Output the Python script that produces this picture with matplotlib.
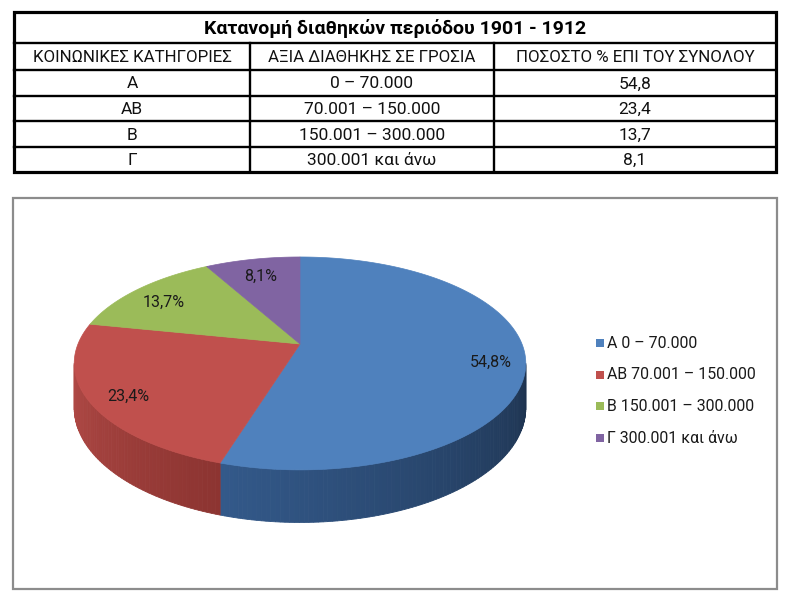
import numpy as np
import matplotlib
matplotlib.use("Agg")
import matplotlib.pyplot as plt
from matplotlib.patches import Polygon, Rectangle
from matplotlib.colors import to_rgb

# ---------------- data ----------------
table_title = "Κατανομή διαθηκών περιόδου 1901 - 1912"
col_headers = ["ΚΟΙΝΩΝΙΚΕΣ ΚΑΤΗΓΟΡΙΕΣ", "ΑΞΙΑ ΔΙΑΘΗΚΗΣ ΣΕ ΓΡΟΣΙΑ", "ΠΟΣΟΣΤΟ % ΕΠΙ ΤΟΥ ΣΥΝΟΛΟΥ"]
categories = ["Α", "ΑΒ", "Β", "Γ"]
value_ranges = ["0 – 70.000", "70.001 – 150.000", "150.001 – 300.000", "300.001 και άνω"]
percentages = [54.8, 23.4, 13.7, 8.1]
legend_labels = [f"{c} {r}" for c, r in zip(categories, value_ranges)]

top_colors = ["#4F81BD", "#C0504D", "#9BBB59", "#8064A2"]
side_light = ["#33598A", "#B24A46", "#86A24A", "#6D5590"]
side_dark = ["#1D324E", "#8C3431", "#6E863B", "#574377"]

FONT = ["Roboto", "DejaVu Sans"]
plt.rcParams['font.family'] = FONT

W, H = 790, 603
fig = plt.figure(figsize=(W / 100, H / 100), dpi=100)
ax = fig.add_axes([0, 0, 1, 1])
ax.set_xlim(0, W)
ax.set_ylim(H, 0)
ax.axis("off")

# ---------------- table ----------------
tx0, tx1 = 14, 776
row_y = [12, 43, 70, 96, 121, 147, 172]
col_x = [tx0, 250, 494, tx1]
lw_in = 1.7
ax.add_patch(Rectangle((tx0, row_y[0]), tx1 - tx0, row_y[-1] - row_y[0],
                       fill=False, ec="black", lw=2.3, zorder=3))
for y in row_y[1:-1]:
    ax.plot([tx0, tx1], [y, y], color="black", lw=lw_in, zorder=3)
for x in col_x[1:-1]:
    ax.plot([x, x], [row_y[1], row_y[-1]], color="black", lw=lw_in, zorder=3)

ax.text((tx0 + tx1) / 2, (row_y[0] + row_y[1]) / 2 + 1, table_title,
        ha="center", va="center", fontsize=14, fontweight="bold")
rows = [col_headers] + [[c, r, f"{p:.1f}".replace(".", ",")]
                        for c, r, p in zip(categories, value_ranges, percentages)]
for ri, row in enumerate(rows):
    yc = (row_y[ri + 1] + row_y[ri + 2]) / 2 + 1
    for ci, txt in enumerate(row):
        xc = (col_x[ci] + col_x[ci + 1]) / 2
        ax.text(xc, yc, txt, ha="center", va="center",
                fontsize=12.2 if ri == 0 else 12.5, color="#111111")

# ---------------- chart frame ----------------
ax.add_patch(Rectangle((13, 198), 764, 391, fill=False, ec="#8C8C8C", lw=1.6, zorder=1))

# ---------------- 3D pie (perspective) ----------------
cx, cy0 = 300, 344
A, B, k = 222, 102.9, 0.1825
depth = 43


def proj(u, v, dz=0.0):
    den = 1 + k * v
    return cx + A * u / den, cy0 - B * v / den + dz / den


fracs = np.array(percentages) / sum(percentages)
starts = 90 - 360 * np.concatenate([[0], np.cumsum(fracs)[:-1]])
ends = starts - 360 * fracs

vis_lo = 180 + np.degrees(np.arcsin(k))
vis_hi = 360 - np.degrees(np.arcsin(k))


def mix(c1, c2, t):
    a, b = np.array(to_rgb(c1)), np.array(to_rgb(c2))
    return tuple(a + (b - a) * t)


# side walls
for i in range(len(fracs)):
    lo, hi = ends[i], starts[i]
    for shift in (-360, 0, 360):
        a0, a1 = max(lo + shift, vis_lo), min(hi + shift, vis_hi)
        if a1 <= a0:
            continue
        ts = np.linspace(a0, a1, max(int((a1 - a0) / 1.0), 2) + 1)
        for j in range(len(ts) - 1):
            t0, t1 = np.radians(ts[j]), np.radians(ts[j + 1])
            p0 = proj(np.cos(t0), np.sin(t0))
            p1 = proj(np.cos(t1), np.sin(t1))
            q1 = proj(np.cos(t1), np.sin(t1), depth)
            q0 = proj(np.cos(t0), np.sin(t0), depth)
            frac = (ts[j] - a0) / max(a1 - a0, 1e-9)
            col = mix(side_light[i], side_dark[i], frac)
            ax.add_patch(Polygon([p0, p1, q1, q0], closed=True, fc=col,
                                 ec=col, lw=0.6, zorder=4))

# top faces
for i in range(len(fracs)):
    ts = np.radians(np.linspace(starts[i], ends[i], 200))
    pts = [proj(0, 0)] + [proj(np.cos(t), np.sin(t)) for t in ts]
    ax.add_patch(Polygon(pts, closed=True, fc=top_colors[i], ec=top_colors[i],
                         lw=0.5, zorder=5))

# data labels
for i in range(len(fracs)):
    tm = np.radians((starts[i] + ends[i]) / 2)
    r = 0.84
    x, y = proj(r * np.cos(tm), r * np.sin(tm))
    ax.text(x + 2, y + 5, f"{percentages[i]:.1f}%".replace(".", ","), ha="center",
            va="center", fontsize=11.5, color="#1A1A1A", zorder=6)

# legend
lx, ly0, ldy = 596, 343, 31.7
for i, lab in enumerate(legend_labels):
    y = ly0 + i * ldy
    ax.add_patch(Rectangle((lx, y - 4), 8, 8, fc=top_colors[i], ec="none", zorder=6))
    ax.text(lx + 11, y, lab, ha="left", va="center", fontsize=11.4,
            color="#1A1A1A", zorder=6)

fig.savefig("out.png", dpi=100)
